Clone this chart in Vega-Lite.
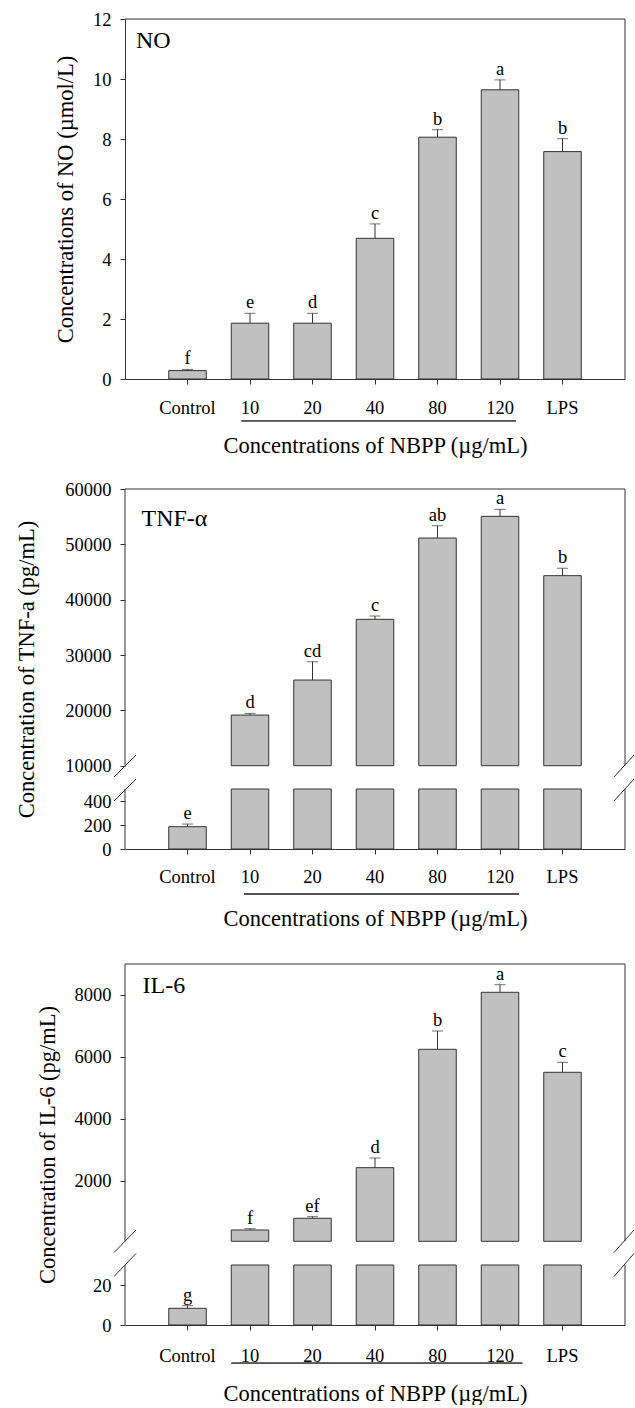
{
  "$schema": "https://vega.github.io/schema/vega-lite/v6.json",
  "padding": {"left": 15, "top": 10, "right": 0, "bottom": 0},
  "background": "white",
  "bounds": "flush",
  "spacing": 110,
  "config": {
    "view": {"stroke": null},
    "font": "Liberation Serif",
    "style": {
      "guide-label": {"font": "Liberation Serif", "fill": "black"},
      "guide-title": {"font": "Liberation Serif", "fill": "black", "fontWeight": "normal"}
    },
    "axis": {
      "labelFont": "Liberation Serif", "titleFont": "Liberation Serif",
      "labelFontSize": 18.5, "titleFontSize": 22.5, "titleFontWeight": "normal",
      "labelColor": "black", "titleColor": "black",
      "domainColor": "#333", "tickColor": "#333", "tickSize": 5, "grid": false
    },
    "text": {"font": "Liberation Serif", "color": "black"}
  },
  "datasets": {
    "no": [
      {"cat": "Control", "mean": 0.28, "upper": 0.32, "sig": "f"},
      {"cat": "10", "mean": 1.86, "upper": 2.19, "sig": "e"},
      {"cat": "20", "mean": 1.86, "upper": 2.19, "sig": "d"},
      {"cat": "40", "mean": 4.69, "upper": 5.17, "sig": "c"},
      {"cat": "80", "mean": 8.06, "upper": 8.31, "sig": "b"},
      {"cat": "120", "mean": 9.64, "upper": 9.97, "sig": "a"},
      {"cat": "LPS", "mean": 7.58, "upper": 8.01, "sig": "b"}
    ],
    "tnf": [
      {"cat": "Control", "mean": 186, "upper": 208, "sig": "e"},
      {"cat": "10", "mean": 19150, "upper": 19450, "sig": "d"},
      {"cat": "20", "mean": 25480, "upper": 28790, "sig": "cd"},
      {"cat": "40", "mean": 36450, "upper": 37050, "sig": "c"},
      {"cat": "80", "mean": 51140, "upper": 53370, "sig": "ab"},
      {"cat": "120", "mean": 55060, "upper": 56330, "sig": "a"},
      {"cat": "LPS", "mean": 44340, "upper": 45680, "sig": "b"}
    ],
    "il6": [
      {"cat": "Control", "mean": 8.35, "upper": 9.65, "sig": "g"},
      {"cat": "10", "mean": 415, "upper": 457, "sig": "f"},
      {"cat": "20", "mean": 793, "upper": 845, "sig": "ef"},
      {"cat": "40", "mean": 2426, "upper": 2739, "sig": "d"},
      {"cat": "80", "mean": 6247, "upper": 6838, "sig": "b"},
      {"cat": "120", "mean": 8087, "upper": 8332, "sig": "a"},
      {"cat": "LPS", "mean": 5505, "upper": 5828, "sig": "c"}
    ]
  },
  "vconcat": [
    {
      "width": 500, "height": 360,
      "data": {"name": "no"},
      "resolve": {"scale": {"x": "independent"}},
      "layer": [
        {"layer": [
          {"mark": {"type": "bar", "fill": "#c0c0c0", "stroke": "#333", "strokeWidth": 1},
           "encoding": {
             "x": {"field": "cat", "type": "nominal", "sort": null,
                   "scale": {"domain": ["Control", "10", "20", "40", "80", "120", "LPS"], "paddingInner": 0.4, "paddingOuter": 0.7},
                   "axis": {"title": "Concentrations of NBPP (µg/mL)", "labelFont": "Liberation Serif", "titleFont": "Liberation Serif", "labelAngle": 0, "labelPadding": 14, "titlePadding": 18, "labelOverlap": false}},
             "y": {"field": "mean", "type": "quantitative",
                   "scale": {"domain": [0, 12], "nice": false, "zero": false},
                   "axis": {"title": "Concentrations of NO (µmol/L)", "labelFont": "Liberation Serif", "titleFont": "Liberation Serif", "values": [0, 2, 4, 6, 8, 10, 12], "labelPadding": 9, "titlePadding": 15, "labelOverlap": false, "format": "d"}}
           }},
          {"mark": {"type": "rule", "color": "#333", "strokeWidth": 1},
           "encoding": {"x": {"field": "cat", "type": "nominal", "sort": null}, "y": {"field": "mean", "type": "quantitative"}, "y2": {"field": "upper"}}},
          {"mark": {"type": "tick", "color": "#333", "size": 11, "thickness": 1, "orient": "horizontal"},
           "encoding": {"x": {"field": "cat", "type": "nominal", "sort": null}, "y": {"field": "upper", "type": "quantitative"}}},
          {"mark": {"type": "text", "dy": -5, "baseline": "alphabetic", "fontSize": 18.5, "font": "Liberation Serif", "color": "black"},
           "encoding": {"x": {"field": "cat", "type": "nominal", "sort": null}, "y": {"field": "upper", "type": "quantitative"}, "text": {"field": "sig"}}},
          {"mark": {"type": "rule", "color": "#555", "strokeWidth": 1.3},
           "encoding": {"x": {"datum": "10", "bandPosition": 0.28}, "x2": {"datum": "120", "bandPosition": 0.92}, "y": {"datum": -1.39}}}
        ]},
        {"data": {"values": [{"label": "NO"}]},
         "layer": [
          {"mark": {"type": "rule", "color": "#333"},
           "encoding": {"x": {"datum": 0, "type": "quantitative", "scale": {"domain": [0, 1]}, "axis": null}, "x2": {"datum": 1}, "y": {"datum": 12}}},
          {"mark": {"type": "rule", "color": "#333"},
           "encoding": {"x": {"datum": 1, "type": "quantitative"}, "y": {"datum": 0}, "y2": {"datum": 12}}},
          {"mark": {"type": "text", "align": "left", "baseline": "alphabetic", "fontSize": 24, "font": "Liberation Serif", "color": "black"},
           "encoding": {"x": {"datum": 0.022, "type": "quantitative"}, "y": {"datum": 11.02}, "text": {"field": "label"}}}
        ]}
      ]
    },
    {
      "width": 500, "height": 360,
      "data": {"name": "tnf"},
      "resolve": {"scale": {"x": "independent"}},
      "layer": [
        {"layer": [
          {"transform": [{"filter": "datum.cat !== 'Control'"}],
           "mark": {"type": "bar", "fill": "#c0c0c0", "stroke": "#333", "strokeWidth": 1},
           "encoding": {
             "x": {"field": "cat", "type": "nominal", "sort": null,
                   "scale": {"domain": ["Control", "10", "20", "40", "80", "120", "LPS"], "paddingInner": 0.4, "paddingOuter": 0.7},
                   "axis": {"title": "Concentrations of NBPP (µg/mL)", "labelFont": "Liberation Serif", "titleFont": "Liberation Serif", "labelAngle": 0, "labelPadding": 13, "titlePadding": 22, "labelOverlap": false}},
             "y": {"field": "mean", "type": "quantitative",
                   "scale": {"domain": [0, 500, 10000, 60000], "range": [360, 300, 276.7, 0], "nice": false, "zero": false},
                   "axis": {"title": "Concentration of TNF-a (pg/mL)", "labelFont": "Liberation Serif", "titleFont": "Liberation Serif", "values": [0, 200, 400, 10000, 20000, 30000, 40000, 50000, 60000], "domain": false, "labelPadding": 9, "titlePadding": 26, "labelOverlap": false, "format": "d"}},
             "y2": {"datum": 10000}
           }},
          {"transform": [{"filter": "datum.cat !== 'Control'"}],
           "mark": {"type": "bar", "fill": "#c0c0c0", "stroke": "#333", "strokeWidth": 1},
           "encoding": {"x": {"field": "cat", "type": "nominal", "sort": null}, "y": {"datum": 500}, "y2": {"datum": 0}}},
          {"transform": [{"filter": "datum.cat === 'Control'"}],
           "mark": {"type": "bar", "fill": "#c0c0c0", "stroke": "#333", "strokeWidth": 1},
           "encoding": {"x": {"field": "cat", "type": "nominal", "sort": null}, "y": {"field": "mean", "type": "quantitative"}}},
          {"mark": {"type": "rule", "color": "#333", "strokeWidth": 1},
           "encoding": {"x": {"field": "cat", "type": "nominal", "sort": null}, "y": {"field": "mean", "type": "quantitative"}, "y2": {"field": "upper"}}},
          {"mark": {"type": "tick", "color": "#333", "size": 11, "thickness": 1, "orient": "horizontal"},
           "encoding": {"x": {"field": "cat", "type": "nominal", "sort": null}, "y": {"field": "upper", "type": "quantitative"}}},
          {"mark": {"type": "text", "dy": -5, "baseline": "alphabetic", "fontSize": 18.5, "font": "Liberation Serif", "color": "black"},
           "encoding": {"x": {"field": "cat", "type": "nominal", "sort": null}, "y": {"field": "upper", "type": "quantitative"}, "text": {"field": "sig"}}},
          {"mark": {"type": "rule", "color": "#555", "strokeWidth": 1.3},
           "encoding": {"x": {"datum": "10", "bandPosition": 0.34}, "x2": {"datum": "120", "bandPosition": 1.0}, "y": {"datum": -375}}}
        ]},
        {"data": {"values": [{"label": "TNF-α"}]},
         "layer": [
          {"mark": {"type": "rule", "color": "#333"},
           "encoding": {"x": {"datum": 0, "type": "quantitative", "scale": {"domain": [0, 1]}, "axis": null}, "x2": {"datum": 1}, "y": {"datum": 60000}}},
          {"mark": {"type": "rule", "color": "#333"},
           "encoding": {"x": {"datum": 0, "type": "quantitative"}, "y": {"datum": 10000}, "y2": {"datum": 60000}}},
          {"mark": {"type": "rule", "color": "#333"},
           "encoding": {"x": {"datum": 0, "type": "quantitative"}, "y": {"datum": 0}, "y2": {"datum": 500}}},
          {"mark": {"type": "rule", "color": "#333"},
           "encoding": {"x": {"datum": 1, "type": "quantitative"}, "y": {"datum": 10000}, "y2": {"datum": 60000}}},
          {"mark": {"type": "rule", "color": "#333"},
           "encoding": {"x": {"datum": 1, "type": "quantitative"}, "y": {"datum": 0}, "y2": {"datum": 500}}},
          {"mark": {"type": "rule", "color": "#333"},
           "encoding": {"x": {"datum": -0.022, "type": "quantitative"}, "x2": {"datum": 0.022}, "y": {"datum": 5393}, "y2": {"datum": 11933}}},
          {"mark": {"type": "rule", "color": "#333"},
           "encoding": {"x": {"datum": -0.022, "type": "quantitative"}, "x2": {"datum": 0.022}, "y": {"datum": 400}, "y2": {"datum": 4577}}},
          {"mark": {"type": "rule", "color": "#333"},
           "encoding": {"x": {"datum": 0.978, "type": "quantitative"}, "x2": {"datum": 1.018}, "y": {"datum": 5393}, "y2": {"datum": 11933}}},
          {"mark": {"type": "rule", "color": "#333"},
           "encoding": {"x": {"datum": 0.978, "type": "quantitative"}, "x2": {"datum": 1.018}, "y": {"datum": 400}, "y2": {"datum": 4577}}},
          {"mark": {"type": "text", "align": "left", "baseline": "alphabetic", "fontSize": 24, "font": "Liberation Serif", "color": "black"},
           "encoding": {"x": {"datum": 0.033, "type": "quantitative"}, "y": {"datum": 53368}, "text": {"field": "label"}}}
        ]}
      ]
    },
    {
      "width": 500, "height": 366,
      "data": {"name": "il6"},
      "resolve": {"scale": {"x": "independent"}},
      "layer": [
        {"layer": [
          {"transform": [{"filter": "datum.cat !== 'Control'"}],
           "mark": {"type": "bar", "fill": "#c0c0c0", "stroke": "#333", "strokeWidth": 1},
           "encoding": {
             "x": {"field": "cat", "type": "nominal", "sort": null,
                   "scale": {"domain": ["Control", "10", "20", "40", "80", "120", "LPS"], "paddingInner": 0.4, "paddingOuter": 0.7},
                   "axis": {"title": "Concentrations of NBPP (µg/mL)", "labelFont": "Liberation Serif", "titleFont": "Liberation Serif", "labelAngle": 0, "labelPadding": 16.5, "titlePadding": 17, "labelOverlap": false}},
             "y": {"field": "mean", "type": "quantitative",
                   "scale": {"domain": [0, 30, 50, 9000], "range": [366, 306, 282.3, 5], "nice": false, "zero": false},
                   "axis": {"title": "Concentration of IL-6 (pg/mL)", "labelFont": "Liberation Serif", "titleFont": "Liberation Serif", "values": [0, 20, 2000, 4000, 6000, 8000], "domain": false, "labelPadding": 9, "titlePadding": 15, "labelOverlap": false, "format": "d"}},
             "y2": {"datum": 50}
           }},
          {"transform": [{"filter": "datum.cat !== 'Control'"}],
           "mark": {"type": "bar", "fill": "#c0c0c0", "stroke": "#333", "strokeWidth": 1},
           "encoding": {"x": {"field": "cat", "type": "nominal", "sort": null}, "y": {"datum": 30}, "y2": {"datum": 0}}},
          {"transform": [{"filter": "datum.cat === 'Control'"}],
           "mark": {"type": "bar", "fill": "#c0c0c0", "stroke": "#333", "strokeWidth": 1},
           "encoding": {"x": {"field": "cat", "type": "nominal", "sort": null}, "y": {"field": "mean", "type": "quantitative"}}},
          {"mark": {"type": "rule", "color": "#333", "strokeWidth": 1},
           "encoding": {"x": {"field": "cat", "type": "nominal", "sort": null}, "y": {"field": "mean", "type": "quantitative"}, "y2": {"field": "upper"}}},
          {"mark": {"type": "tick", "color": "#333", "size": 11, "thickness": 1, "orient": "horizontal"},
           "encoding": {"x": {"field": "cat", "type": "nominal", "sort": null}, "y": {"field": "upper", "type": "quantitative"}}},
          {"mark": {"type": "text", "dy": -5, "baseline": "alphabetic", "fontSize": 18.5, "font": "Liberation Serif", "color": "black"},
           "encoding": {"x": {"field": "cat", "type": "nominal", "sort": null}, "y": {"field": "upper", "type": "quantitative"}, "text": {"field": "sig"}}},
          {"mark": {"type": "rule", "color": "#555", "strokeWidth": 1.3},
           "encoding": {"x": {"datum": "10", "bandPosition": 0.01}, "x2": {"datum": "120", "bandPosition": 1.09}, "y": {"datum": -19.15}}}
        ]},
        {"data": {"values": [{"label": "IL-6"}]},
         "layer": [
          {"mark": {"type": "rule", "color": "#333"},
           "encoding": {"x": {"datum": 0, "type": "quantitative", "scale": {"domain": [0, 1]}, "axis": null}, "x2": {"datum": 1}, "y": {"datum": 9000}}},
          {"mark": {"type": "rule", "color": "#333"},
           "encoding": {"x": {"datum": 0, "type": "quantitative"}, "y": {"datum": 50}, "y2": {"datum": 9000}}},
          {"mark": {"type": "rule", "color": "#333"},
           "encoding": {"x": {"datum": 0, "type": "quantitative"}, "y": {"datum": 0}, "y2": {"datum": 30}}},
          {"mark": {"type": "rule", "color": "#333"},
           "encoding": {"x": {"datum": 1, "type": "quantitative"}, "y": {"datum": 50}, "y2": {"datum": 9000}}},
          {"mark": {"type": "rule", "color": "#333"},
           "encoding": {"x": {"datum": 1, "type": "quantitative"}, "y": {"datum": 0}, "y2": {"datum": 30}}},
          {"mark": {"type": "rule", "color": "#333"},
           "encoding": {"x": {"datum": -0.022, "type": "quantitative"}, "x2": {"datum": 0.022}, "y": {"datum": 40.5}, "y2": {"datum": 414.7}}},
          {"mark": {"type": "rule", "color": "#333"},
           "encoding": {"x": {"datum": -0.022, "type": "quantitative"}, "x2": {"datum": 0.022}, "y": {"datum": 24.25}, "y2": {"datum": 39.7}}},
          {"mark": {"type": "rule", "color": "#333"},
           "encoding": {"x": {"datum": 0.978, "type": "quantitative"}, "x2": {"datum": 1.018}, "y": {"datum": 40.5}, "y2": {"datum": 414.7}}},
          {"mark": {"type": "rule", "color": "#333"},
           "encoding": {"x": {"datum": 0.978, "type": "quantitative"}, "x2": {"datum": 1.018}, "y": {"datum": 24.25}, "y2": {"datum": 39.7}}},
          {"mark": {"type": "text", "align": "left", "baseline": "alphabetic", "fontSize": 24, "font": "Liberation Serif", "color": "black"},
           "encoding": {"x": {"datum": 0.035, "type": "quantitative"}, "y": {"datum": 8054}, "text": {"field": "label"}}}
        ]}
      ]
    }
  ]
}
